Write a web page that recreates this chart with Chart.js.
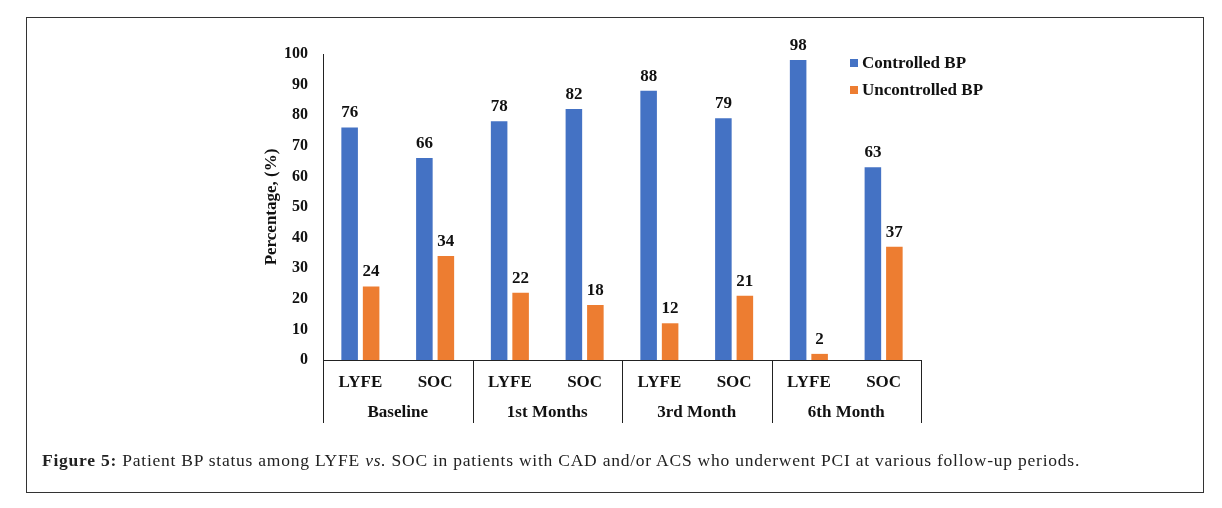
<!DOCTYPE html>
<html>
<head>
<meta charset="utf-8">
<script src="https://cdn.jsdelivr.net/npm/chart.js@4.4.0/dist/chart.umd.min.js"></script>
<style>
  html, body { margin: 0; padding: 0; background: #fff; }
  #wrap { position: relative; width: 1222px; height: 508px; overflow: hidden; }
  #frame { position: absolute; left: 26px; top: 17px; width: 1178px; height: 476px; border: 1px solid #333; box-sizing: border-box; }
  #cv { position: absolute; left: 0; top: 0; }
  #caption { position: absolute; left: 42px; top: 450px; font-family: "Liberation Serif", serif; font-size: 17.5px; color: #222; white-space: nowrap; }
</style>
</head>
<body>
<div id="wrap">
  <div id="frame"></div>
  <canvas id="cv" width="1222" height="508"></canvas>
  <div id="caption"><b>Figure 5:</b> Patient BP status among LYFE <i>vs.</i> SOC in patients with CAD and/or ACS who underwent PCI at various follow-up periods.</div>
</div>
<script>
// --- datos ---
const subLabels = ['LYFE', 'SOC', 'LYFE', 'SOC', 'LYFE', 'SOC', 'LYFE', 'SOC'];
const groupLabels = ['Baseline', '1st Months', '3rd Month', '6th Month'];
const controlled = [76, 66, 78, 82, 88, 79, 98, 63];
const uncontrolled = [24, 34, 22, 18, 12, 21, 2, 37];
const seriesNames = ['Controlled BP', 'Uncontrolled BP'];
const yMax = 100;
const yStep = 10;

const BLUE = '#4472C4';
const ORANGE = '#ED7D31';
const INK = '#111111';
const FONT = '"Liberation Serif", "Times New Roman", serif';

Chart.defaults.font.family = FONT;
Chart.defaults.color = INK;

// numeros encima de cada barra
const valueLabels = {
  id: 'valueLabels',
  afterDatasetsDraw(chart) {
    const ctx = chart.ctx;
    ctx.save();
    ctx.font = 'bold 17px ' + FONT;
    ctx.fillStyle = INK;
    ctx.textAlign = 'center';
    ctx.textBaseline = 'bottom';
    chart.data.datasets.forEach((ds, di) => {
      chart.getDatasetMeta(di).data.forEach((bar, i) => {
        ctx.fillText(ds.data[i], bar.x, bar.y - 6);
      });
    });
    ctx.restore();
  }
};

// segundo nivel del eje x (periodos) + separadores
const groupAxis = {
  id: 'groupAxis',
  afterDraw(chart) {
    const ctx = chart.ctx;
    const x = chart.scales.x;
    const y0 = chart.chartArea.bottom;
    const y1 = 423;
    ctx.save();
    ctx.strokeStyle = '#222';
    ctx.lineWidth = 1;
    const edges = [x.left];
    for (let g = 1; g < groupLabels.length; g++) {
      edges.push((x.getPixelForValue(g * 2 - 1) + x.getPixelForValue(g * 2)) / 2);
    }
    edges.push(x.right);
    edges.forEach(px => {
      const p = Math.round(px) + 0.5;
      ctx.beginPath();
      ctx.moveTo(p, y0);
      ctx.lineTo(p, y1);
      ctx.stroke();
    });
    ctx.font = 'bold 17px ' + FONT;
    ctx.fillStyle = INK;
    ctx.textAlign = 'center';
    ctx.textBaseline = 'middle';
    groupLabels.forEach((lbl, g) => {
      const cx = (x.getPixelForValue(g * 2) + x.getPixelForValue(g * 2 + 1)) / 2;
      ctx.fillText(lbl, cx, 413);
    });
    ctx.restore();
  }
};

// leyenda dentro del grafico, arriba a la derecha
const cornerLegend = {
  id: 'cornerLegend',
  afterDraw(chart) {
    const ctx = chart.ctx;
    const rows = [63, 90];
    ctx.save();
    ctx.font = 'bold 17px ' + FONT;
    ctx.textAlign = 'left';
    ctx.textBaseline = 'middle';
    chart.data.datasets.forEach((ds, i) => {
      ctx.fillStyle = ds.backgroundColor;
      ctx.fillRect(850, rows[i] - 4, 8, 8);
      ctx.fillStyle = INK;
      ctx.fillText(ds.label, 862, rows[i] + 1);
    });
    ctx.restore();
  }
};

new Chart(document.getElementById('cv'), {
  type: 'bar',
  data: {
    labels: subLabels,
    datasets: [
      { label: seriesNames[0], data: controlled, backgroundColor: BLUE, categoryPercentage: 0.575, barPercentage: 0.77 },
      { label: seriesNames[1], data: uncontrolled, backgroundColor: ORANGE, categoryPercentage: 0.575, barPercentage: 0.77 }
    ]
  },
  options: {
    responsive: false,
    animation: false,
    layout: { padding: { left: 250, right: 301, top: 54, bottom: 80 } },
    scales: {
      x: {
        grid: { display: false, drawTicks: false },
        border: { color: '#222', width: 1 },
        ticks: { color: INK, font: { size: 17, weight: 'bold' }, padding: 12, maxRotation: 0 },
        afterFit(scale) { scale.height = 68; }
      },
      y: {
        min: 0,
        max: yMax,
        grid: { display: false, drawTicks: false },
        border: { color: '#222', width: 1 },
        ticks: { stepSize: yStep, color: INK, font: { size: 16, weight: 'bold' }, padding: 15 },
        title: { display: true, text: 'Percentage, (%)', color: INK, font: { size: 17, weight: 'bold' }, padding: { top: 11, bottom: 0 } },
        afterFit(scale) { scale.width = 73; }
      }
    },
    plugins: {
      legend: { display: false },
      tooltip: { enabled: false }
    }
  },
  plugins: [valueLabels, groupAxis, cornerLegend]
});

// ajustar el ancho del pie de figura (x 42 a 1080)
const cap = document.getElementById('caption');
const nChars = cap.textContent.length;
const extra = (1038 - cap.getBoundingClientRect().width) / nChars;
cap.style.letterSpacing = extra.toFixed(3) + 'px';
</script>
</body>
</html>
